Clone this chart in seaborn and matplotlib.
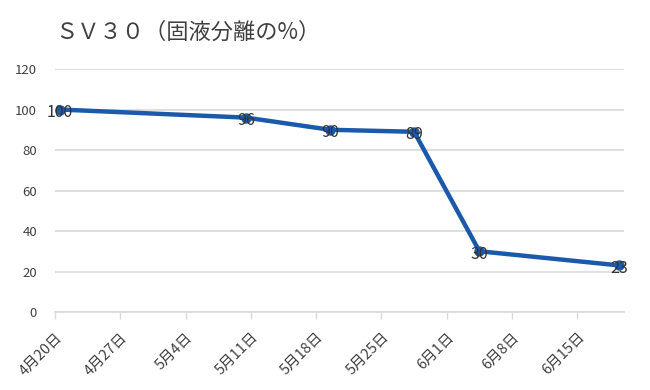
import pandas as pd
import matplotlib
matplotlib.use("Agg")
import matplotlib.pyplot as plt
import seaborn as sns

# data
dates = ["2021-04-20", "2021-05-10", "2021-05-19", "2021-05-28", "2021-06-04", "2021-06-19"]
sv30 = [100, 96, 90, 89, 30, 23]
tick_dates = pd.date_range("2021-04-20", periods=9, freq="7D")
tick_labels = [f"{d.month}月{d.day}日" for d in tick_dates]
y_ticks = [0, 20, 40, 60, 80, 100, 120]
title = "ＳＶ３０（固液分離の%）"

sns.set_style("white")
plt.rcParams["font.family"] = ["Noto Sans CJK JP", "DejaVu Sans"]

df = pd.DataFrame({"date": pd.to_datetime(dates), "sv30": sv30})
# Excel date axis: points sit in the middle of each day slot
df["x"] = df["date"] + pd.Timedelta(hours=12)

fig = plt.figure(figsize=(6.5, 3.9), dpi=100)
ax = fig.add_axes([0.0846, 0.2, 0.8754, 0.623])

sns.lineplot(data=df, x="x", y="sv30", ax=ax, color="#1B5AAB", linewidth=3.2,
             marker="o", markersize=7.5, markeredgewidth=0, zorder=3)

for _, r in df.iterrows():
    ax.annotate(str(r["sv30"]), (r["x"], r["sv30"]), xytext=(0, -2),
                textcoords="offset points", ha="center", va="center",
                fontsize=11.5, color="#333333", zorder=4)

ax.set_xlim(pd.Timestamp("2021-04-20"), pd.Timestamp("2021-06-20"))
ax.set_ylim(0, 120)
ax.set_yticks(y_ticks)
ax.set_xticks(tick_dates)
ax.set_xticklabels(tick_labels, rotation=45, ha="right", rotation_mode="anchor")
ax.set_xlabel("")
ax.set_ylabel("")

ax.yaxis.grid(True, color="#d9d9d9", linewidth=1.2)
ax.xaxis.grid(False)
for s in ["top", "right", "left"]:
    ax.spines[s].set_visible(False)
ax.spines["bottom"].set_color("#d9d9d9")
ax.spines["bottom"].set_linewidth(1.2)

ax.tick_params(axis="y", length=0, pad=13, labelsize=9.5, labelcolor="#404040")
ax.tick_params(axis="x", length=5, width=1, color="#d9d9d9", direction="out",
               bottom=True, pad=8, labelsize=10.5, labelcolor="#404040")

fig.text(55 / 650, 1 - 32 / 390, title, fontsize=16, color="#404040",
         ha="left", va="center")

plt.savefig("out.png", dpi=100)
plt.close()
